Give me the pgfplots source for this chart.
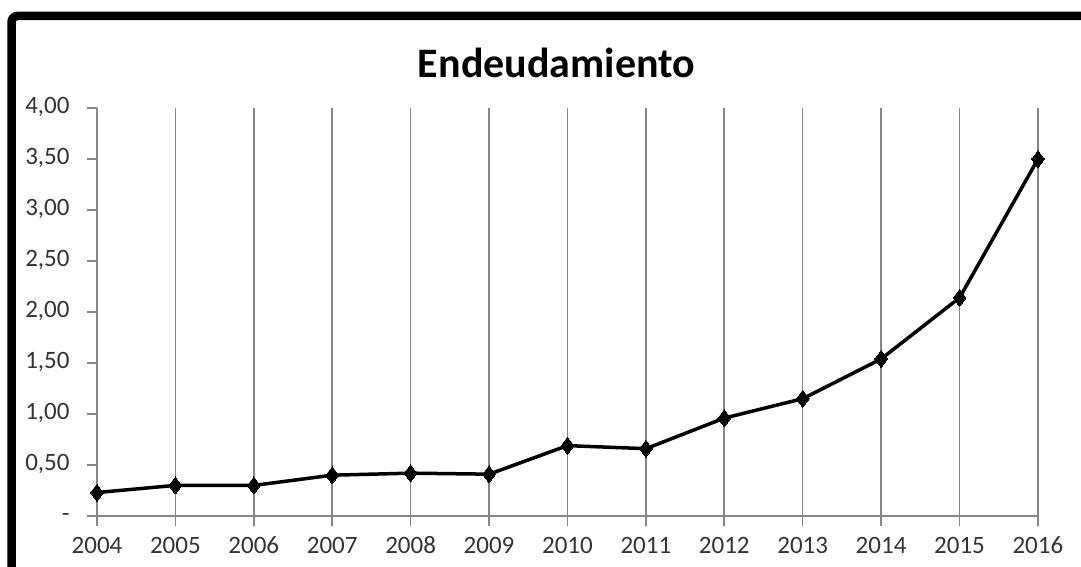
\documentclass[border=0pt]{standalone}
\usepackage{pgfplots}
\pgfplotsset{compat=1.18}
\usepackage{fontspec}
\setmainfont{Carlito}
\definecolor{gridgray}{HTML}{868686}
\definecolor{labgray}{HTML}{333333}
\begin{document}
\begin{tikzpicture}[x=1pt,y=1pt]
\useasboundingbox (0,0) rectangle (1081,567);
\begin{scope}
\clip (0,0) rectangle (1081,567);
\fill[white] (0,0) rectangle (1081,567);
\draw[black, line width=8.5pt, rounded corners=6pt] (11.5,551) rectangle (1120,-40);
\end{scope}
\node[anchor=base, font=\bfseries\fontsize{42}{48}\selectfont] at (556.5,489) {Endeudamiento};
\begin{axis}[
  at={(97pt,51pt)}, anchor=origin,
  width=941pt, height=408pt, scale only axis,
  xmin=2004, xmax=2016, ymin=0, ymax=4,
  axis x line=bottom, axis y line=left,
  axis line style={gridgray, line width=1.6pt, -},
  xtick={2004,...,2016},
  xticklabels={2004,2005,2006,2007,2008,2009,2010,2011,2012,2013,2014,2015,2016},
  ytick={0,0.5,...,4},
  yticklabels={{-},{0,50},{1,00},{1,50},{2,00},{2,50},{3,00},{3,50},{4,00}},
  tick align=outside,
  major tick length=10pt,
  tick style={gridgray, line width=1.6pt},
  xmajorgrids,
  grid style={gridgray, line width=1.6pt},
  ticklabel style={font=\fontsize{25}{29}\selectfont, text=labgray},
  typeset ticklabels with strut,
  xticklabel style={yshift=-4pt},
  yticklabel style={xshift=-14pt},
  clip=false,
]
\addplot[black, line width=3.5pt, mark=diamond*, mark size=8.5pt, mark options={solid, line width=0pt, fill=black}] coordinates {
(2004,0.23) (2005,0.30) (2006,0.30) (2007,0.40) (2008,0.42) (2009,0.41)
(2010,0.69) (2011,0.66) (2012,0.96) (2013,1.15) (2014,1.54) (2015,2.14) (2016,3.50)
};
\end{axis}
\end{tikzpicture}
\end{document}
